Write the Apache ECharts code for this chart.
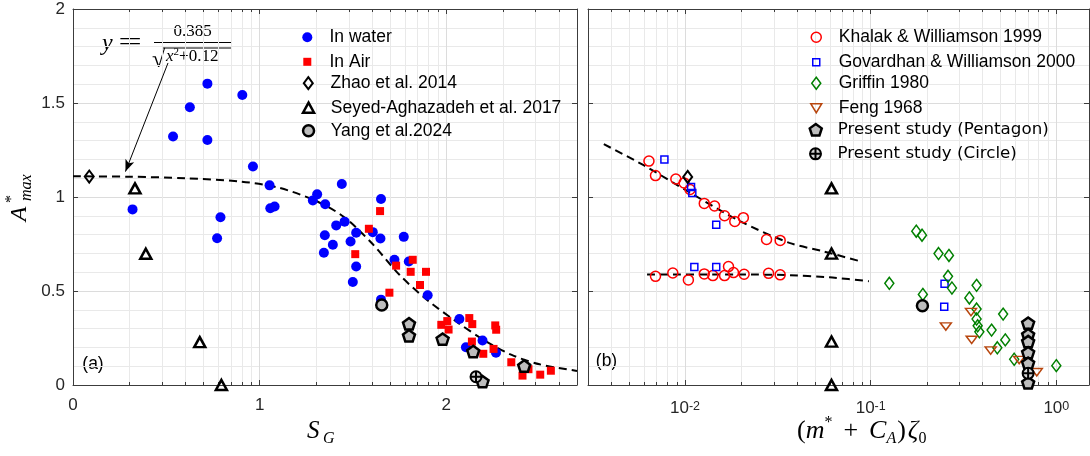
<!DOCTYPE html>
<html>
<head>
<meta charset="utf-8">
<script src="https://cdn.jsdelivr.net/npm/echarts@6.0.0/dist/echarts.min.js"></script>
<style>
  html, body { margin: 0; padding: 0; background: #fff; }
  #chart { width: 1090px; height: 456px; }
</style>
</head>
<body>
<div id="chart"></div>
<script>
// ---------- panel (a): A*max against S_G ----------
const inWater = [
  [0.319, 0.934], [0.536, 1.322], [0.626, 1.477], [0.72, 1.603], [0.72, 1.303],
  [0.772, 0.781], [0.79, 0.892], [0.907, 1.543], [0.964, 1.162], [1.053, 1.062],
  [1.057, 0.94], [1.08, 0.949], [1.285, 0.982], [1.308, 1.014], [1.351, 0.961],
  [1.44, 1.069], [1.41, 0.849], [1.455, 0.869], [1.349, 0.797], [1.392, 0.746],
  [1.344, 0.703], [1.487, 0.763], [1.517, 0.81], [1.606, 0.813], [1.65, 0.989],
  [1.647, 0.779], [1.517, 0.63], [1.499, 0.548], [1.772, 0.788], [1.722, 0.666],
  [1.799, 0.657], [1.65, 0.454], [1.9, 0.477], [2.07, 0.351], [2.105, 0.201],
  [2.194, 0.237], [2.266, 0.172]
];
const inAir = [
  [1.645, 0.925], [1.585, 0.831], [1.512, 0.696], [1.731, 0.635], [1.82, 0.666],
  [1.809, 0.602], [1.891, 0.602], [1.859, 0.532], [1.695, 0.491], [1.973, 0.32],
  [2.005, 0.34], [2.012, 0.295], [2.123, 0.356], [2.139, 0.324], [2.137, 0.231],
  [2.198, 0.166], [2.262, 0.317], [2.267, 0.294], [2.253, 0.192], [2.348, 0.121],
  [2.408, 0.05], [2.44, 0.084], [2.503, 0.055], [2.56, 0.076]
];
const zhaoA = [[0.087, 1.109]];
const seyedA = [[0.332, 1.046], [0.39, 0.698], [0.679, 0.228], [0.795, 0.0]];
const yangA = [[1.654, 0.425]];
const pentagonA = [[1.8, 0.326], [1.8, 0.262], [1.98, 0.244], [2.144, 0.178], [2.417, 0.101], [2.194, 0.018]];
const circleA = [[2.159, 0.044]];
const fitA = [
  [0, 1.11], [0.3, 1.108], [0.6, 1.1], [0.9, 1.082], [1.1, 1.05], [1.3, 0.98],
  [1.45, 0.895], [1.6, 0.755], [1.75, 0.585], [1.9, 0.45], [2.05, 0.34],
  [2.2, 0.24], [2.35, 0.16], [2.5, 0.11], [2.7, 0.075]
];

// ---------- panel (b): A*max against (m*+C_A)zeta0 ----------
const khalak = [
  [0.00639, 1.191], [0.00693, 1.114], [0.00892, 1.096], [0.00988, 1.075], [0.01064, 1.04],
  [0.01269, 0.966], [0.01442, 0.952], [0.01632, 0.9], [0.01853, 0.87], [0.02061, 0.89],
  [0.02748, 0.774], [0.03254, 0.769],
  [0.00693, 0.578], [0.00859, 0.596], [0.01042, 0.559], [0.01269, 0.591], [0.01412, 0.582],
  [0.01632, 0.582], [0.01714, 0.63], [0.01823, 0.598], [0.0208, 0.589], [0.02818, 0.594],
  [0.03254, 0.586]
];
const govardhan = [
  [0.00774, 1.2], [0.01077, 1.053], [0.01094, 1.021], [0.01472, 0.853],
  [0.01122, 0.628], [0.01472, 0.628], [0.25, 0.538], [0.249, 0.416]
];
const griffin = [
  [0.176, 0.818], [0.189, 0.797], [0.232, 0.699], [0.264, 0.689], [0.261, 0.578],
  [0.274, 0.516], [0.372, 0.53], [0.126, 0.541], [0.191, 0.482], [0.34, 0.463],
  [0.372, 0.404], [0.372, 0.351], [0.377, 0.315], [0.385, 0.283], [0.448, 0.292],
  [0.517, 0.377], [0.531, 0.24], [0.481, 0.198], [0.593, 0.137], [1.0, 0.103]
];
const feng = [[0.347, 0.388], [0.254, 0.311], [0.35, 0.24], [0.443, 0.183], [0.631, 0.133], [0.785, 0.068]];
const zhaoB = [[0.01033, 1.107]];
const seyedB = [[0.0615, 1.046], [0.0615, 0.699], [0.0615, 0.231], [0.0615, 0.0]];
const yangB = [[0.19, 0.422]];
const pentagonB = [[0.705, 0.329], [0.705, 0.267], [0.705, 0.231], [0.705, 0.172], [0.705, 0.116], [0.705, 0.012]];
const circleB = [[0.705, 0.062]];
const fitUpperB = [[0.00365, 1.281], [0.00598, 1.169], [0.01064, 1.023], [0.01972, 0.872], [0.03648, 0.756], [0.0551, 0.712], [0.0887, 0.657]];
const fitLowerB = [[0.00624, 0.588], [0.02, 0.588], [0.035, 0.585], [0.06, 0.573], [0.0978, 0.552]];

// axis ticks
const yTicks = { min: 0, max: 2, interval: 0.5 };
const xTicksA = { min: 0, max: 2.7, interval: 1 };
const xRangeB = { min: 0.003, max: 1.5 };

// ---------- styling ----------
const AXIS = '#3c3c3c';
const LABEL = '#262626';
const MAJOR = '#dcdcdc';
const MINOR = '#e9e9e9';
const GRAYFILL = '#bdbdbd';
const SANS = 'Liberation Sans';
const SERIF = 'Liberation Serif';

const PENTAGON = 'path://M0,-1L0.951,-0.309L0.588,0.809L-0.588,0.809L-0.951,-0.309Z';
const CROSSCIRCLE = 'path://M10,0A10,10 0 1 1 -10,0A10,10 0 1 1 10,0Z M-10,0L10,0 M0,-10L0,10';
const DOWNTRI = 'path://M-5.5,-4.5L5.5,-4.5L0,4.5Z';

// minor grid positions: MATLAB-style 2..9 subdivisions
const minorA = [];
for (let k = 0; k < 3; k++) for (let m = 2; m <= 9; m++) { const v = k + Math.log10(m); if (v < 2.69) minorA.push(v); }
const minorB = [];
for (let e = -3; e <= 0; e++) for (let m = 2; m <= 9; m++) { const v = m * Math.pow(10, e); if (v > 0.0031 && v < 1.5) minorB.push(v); }

function minorGrid(xi, yi, positions) {
  return {
    type: 'custom', xAxisIndex: xi, yAxisIndex: yi, silent: true, z: 1,
    data: positions.map(v => [v, 1]),
    renderItem(params, api) {
      const cs = params.coordSys;
      const px = Math.round(api.coord([api.value(0), 1])[0]) + 0.5;
      const y0 = cs.y, y1 = cs.y + cs.height;
      return { type: 'group', children: [
        { type: 'line', shape: { x1: px, y1: y0, x2: px, y2: y1 }, style: { stroke: MINOR, lineWidth: 1 } },
        { type: 'line', shape: { x1: px, y1: y1, x2: px, y2: y1 - 3 }, style: { stroke: AXIS, lineWidth: 1 } },
        { type: 'line', shape: { x1: px, y1: y0, x2: px, y2: y0 + 3 }, style: { stroke: AXIS, lineWidth: 1 } }
      ] };
    }
  };
}

// marker styles shared by both panels
const styles = {
  'In water': { symbol: 'circle', size: 10, item: { color: '#0000ff' } },
  'In Air': { symbol: 'rect', size: 8, item: { color: '#ff0000' } },
  'Zhao et al. 2014': { symbol: 'diamond', size: [9, 12], item: { color: 'rgba(0,0,0,0)', borderColor: '#000', borderWidth: 2 } },
  'Seyed-Aghazadeh et al. 2017': { symbol: 'triangle', size: [11, 10], item: { color: 'rgba(0,0,0,0)', borderColor: '#000', borderWidth: 2.5 } },
  'Yang et al.2024': { symbol: 'circle', size: 11, item: { color: GRAYFILL, borderColor: '#000', borderWidth: 2.5 } },
  'Khalak & Williamson 1999': { symbol: 'circle', size: 10, item: { color: 'rgba(0,0,0,0)', borderColor: '#ff0000', borderWidth: 1.5 } },
  'Govardhan & Williamson 2000': { symbol: 'rect', size: 7, item: { color: 'rgba(0,0,0,0)', borderColor: '#0000ff', borderWidth: 1.5 } },
  'Griffin 1980': { symbol: 'diamond', size: [9, 12], item: { color: 'rgba(0,0,0,0)', borderColor: '#008000', borderWidth: 1.5 } },
  'Feng 1968': { symbol: DOWNTRI, size: [11, 9], item: { color: 'rgba(0,0,0,0)', borderColor: '#b8460e', borderWidth: 1.5 } },
  'Present study (Pentagon)': { symbol: PENTAGON, size: 12, item: { color: GRAYFILL, borderColor: '#000', borderWidth: 2.5 } },
  'Present study (Circle)': { symbol: CROSSCIRCLE, size: 11, item: { color: '#d6d6d6', borderColor: '#000', borderWidth: 2 } }
};

function scatter(name, data, xi, yi) {
  const s = styles[name];
  return {
    type: 'scatter', name, data, xAxisIndex: xi, yAxisIndex: yi, z: 4,
    symbol: s.symbol, symbolSize: s.size, symbolKeepAspect: true,
    itemStyle: Object.assign({ opacity: 1 }, s.item), emphasis: { disabled: true }
  };
}

function fitLine(data, xi, yi, extra) {
  return Object.assign({
    type: 'line', data, xAxisIndex: xi, yAxisIndex: yi, symbol: 'none', smooth: 0.3, z: 3,
    silent: true, lineStyle: { color: '#000', width: 2, type: [8, 5] }
  }, extra || {});
}

// one legend component per row so each icon keeps its own size
function legendRow(name, iconCx, textLeft, cy, textStyle) {
  const s = styles[name];
  const w = Array.isArray(s.size) ? s.size[0] : s.size;
  const h = Array.isArray(s.size) ? s.size[1] : s.size;
  return {
    data: [{ name, icon: s.symbol, itemStyle: s.item }],
    left: iconCx - w / 2, top: cy - h / 2, itemWidth: w, itemHeight: h,
    padding: 0, itemGap: 0, orient: 'vertical', selectedMode: false,
    textStyle: Object.assign({
      fontFamily: SANS, fontSize: 17.5, color: '#000',
      padding: [0, 0, 0, textLeft - (iconCx + w / 2 + 5)]
    }, textStyle || {})
  };
}

const legendA = ['In water', 'In Air', 'Zhao et al. 2014', 'Seyed-Aghazadeh et al. 2017', 'Yang et al.2024'];
const legendB = ['Khalak & Williamson 1999', 'Govardhan & Williamson 2000', 'Griffin 1980', 'Feng 1968', 'Present study (Pentagon)', 'Present study (Circle)'];
const rowY = [33.3, 56.8, 80.2, 103.7, 127.2, 150.8];

function valueAxis(grid, pos, range, showLabel) {
  return Object.assign({
    gridIndex: grid, type: 'value', position: pos,
    axisLine: { show: true, onZero: false, lineStyle: { color: AXIS, width: 1 } },
    axisTick: { show: true, inside: true, length: 5, lineStyle: { color: AXIS } },
    axisLabel: { show: showLabel, fontFamily: SANS, fontSize: 17, color: LABEL, margin: 12, showMaxLabel: false },
    splitLine: { show: pos === 'bottom', lineStyle: { color: MAJOR, width: 1 } }
  }, range);
}
function logAxis(grid, pos, showLabel) {
  return Object.assign({
    gridIndex: grid, type: 'log', logBase: 10, position: pos,
    axisLine: { show: true, onZero: false, lineStyle: { color: AXIS, width: 1 } },
    axisTick: { show: true, inside: true, length: 5, lineStyle: { color: AXIS } },
    axisLabel: {
      show: showLabel, showMinLabel: false, showMaxLabel: false, margin: 15,
      formatter: v => '{b|10}{s|' + Math.round(Math.log10(v)) + '}',
      rich: {
        b: { fontFamily: SANS, fontSize: 17, color: LABEL, lineHeight: 17, verticalAlign: 'bottom' },
        s: { fontFamily: SANS, fontSize: 12.5, color: LABEL, lineHeight: 12, verticalAlign: 'top' }
      }
    },
    splitLine: { show: pos === 'bottom', lineStyle: { color: MAJOR, width: 1 } }
  }, xRangeB);
}
function yAxisFor(grid, pos, showLabel) {
  return Object.assign({
    gridIndex: grid, type: 'value', position: pos,
    axisLine: { show: true, onZero: false, lineStyle: { color: AXIS, width: 1 } },
    axisTick: { show: true, inside: true, length: 5, lineStyle: { color: AXIS } },
    axisLabel: { show: showLabel, fontFamily: SANS, fontSize: 17, color: LABEL, margin: 8, formatter: v => String(v) },
    splitLine: { show: pos === 'left', lineStyle: { color: MAJOR, width: 1 } },
    minorTick: { show: false, splitNumber: 5 },
    minorSplitLine: { show: pos === 'left', lineStyle: { color: MINOR, width: 1 } }
  }, yTicks);
}

const serifIt = { fontFamily: SERIF, fontStyle: 'italic', fill: '#000' };

const option = {
  animation: false,
  backgroundColor: '#fff',
  textStyle: { fontFamily: SANS },
  grid: [
    { left: 73, top: 9, width: 504, height: 376, outerBoundsMode: 'none' },
    { left: 588, top: 9, width: 501, height: 376, outerBoundsMode: 'none' }
  ],
  xAxis: [
    valueAxis(0, 'bottom', xTicksA, true),
    valueAxis(0, 'top', xTicksA, false),
    logAxis(1, 'bottom', true),
    logAxis(1, 'top', false)
  ],
  yAxis: [
    yAxisFor(0, 'left', true),
    yAxisFor(0, 'right', false),
    yAxisFor(1, 'left', false),
    yAxisFor(1, 'right', false)
  ],
  legend: [
    ...legendA.map((n, i) => legendRow(n, 307.3, 329.5, rowY[i])),
    ...legendB.map((n, i) => legendRow(n, i < 4 ? 815.5 : 814.5, i < 4 ? 838 : 836.5, rowY[i],
      i < 4 ? null : { fontFamily: 'DejaVu Sans', fontSize: 16.7 }))
  ],
  series: [
    minorGrid(0, 0, minorA),
    minorGrid(2, 2, minorB),
    fitLine(fitA, 0, 0, {
      markLine: {
        silent: true, symbol: ['none', 'arrow'], symbolSize: [7, 12], animation: false,
        label: { show: false }, lineStyle: { color: '#000', width: 1, type: 'solid' },
        data: [[{ coord: [0.509, 1.713] }, { coord: [0.281, 1.135] }]]
      }
    }),
    scatter('In water', inWater, 0, 0),
    scatter('In Air', inAir, 0, 0),
    scatter('Zhao et al. 2014', zhaoA, 0, 0),
    scatter('Seyed-Aghazadeh et al. 2017', seyedA, 0, 0),
    scatter('Yang et al.2024', yangA, 0, 0),
    scatter('Present study (Pentagon)', pentagonA, 0, 0),
    scatter('Present study (Circle)', circleA, 0, 0),
    fitLine(fitUpperB, 2, 2),
    fitLine(fitLowerB, 2, 2, { smooth: 0.2 }),
    scatter('Khalak & Williamson 1999', khalak, 2, 2),
    scatter('Govardhan & Williamson 2000', govardhan, 2, 2),
    scatter('Griffin 1980', griffin, 2, 2),
    scatter('Feng 1968', feng, 2, 2),
    scatter('Zhao et al. 2014', zhaoB, 2, 2),
    scatter('Seyed-Aghazadeh et al. 2017', seyedB, 2, 2),
    scatter('Yang et al.2024', yangB, 2, 2),
    scatter('Present study (Pentagon)', pentagonB, 2, 2),
    scatter('Present study (Circle)', circleB, 2, 2)
  ],
  graphic: [
    // panel tags
    { type: 'text', x: 93, y: 364, style: { text: '(a)', fontFamily: SANS, fontSize: 17.5, fill: '#000', align: 'center', verticalAlign: 'middle' } },
    { type: 'text', x: 606.5, y: 361, style: { text: '(b)', fontFamily: SANS, fontSize: 17.5, fill: '#000', align: 'center', verticalAlign: 'middle' } },
    // y-axis title A*_max
    { type: 'group', x: 20, y: 197, rotation: Math.PI / 2, children: [
      { type: 'text', x: -17, y: 0, style: Object.assign({ text: 'A', fontSize: 24, align: 'center', verticalAlign: 'middle' }, serifIt) },
      { type: 'text', x: -6, y: -8, style: { text: '*', fontFamily: SERIF, fontSize: 16, fill: '#000', align: 'left', verticalAlign: 'middle' } },
      { type: 'text', x: -4, y: 7, style: Object.assign({ text: 'max', fontSize: 16, align: 'left', verticalAlign: 'middle' }, serifIt) }
    ] },
    // x-axis title S_G
    { type: 'text', x: 307, y: 431, style: Object.assign({ text: 'S', fontSize: 25, align: 'left', verticalAlign: 'middle' }, serifIt) },
    { type: 'text', x: 323, y: 439, style: Object.assign({ text: 'G', fontSize: 16, align: 'left', verticalAlign: 'middle' }, serifIt) },
    // x-axis title (m* + C_A) zeta_0
    { type: 'text', x: 797, y: 431, style: {
      text: '{u|(}{i|m}{p|*}{o|+}{i|C}{d|A}{u|)}{z|ζ}{e|0}',
      align: 'left', verticalAlign: 'middle',
      rich: {
        u: { fontFamily: SERIF, fontSize: 26, fill: '#000', lineHeight: 32, verticalAlign: 'middle' },
        o: { fontFamily: SERIF, fontSize: 26, fill: '#000', lineHeight: 32, verticalAlign: 'middle', padding: [0, 11, 0, 11] },
        i: { fontFamily: SERIF, fontStyle: 'italic', fontSize: 26, fill: '#000', lineHeight: 32, verticalAlign: 'middle' },
        z: { fontFamily: SERIF, fontStyle: 'italic', fontSize: 26, fill: '#000', lineHeight: 32, verticalAlign: 'middle', padding: [0, 0, 0, 2] },
        p: { fontFamily: SERIF, fontSize: 16, fill: '#000', verticalAlign: 'top' },
        d: { fontFamily: SERIF, fontStyle: 'italic', fontSize: 16, fill: '#000', verticalAlign: 'bottom', padding: [0, 1, 0, 0] },
        e: { fontFamily: SERIF, fontSize: 16, fill: '#000', verticalAlign: 'bottom' }
      }
    } },
    // fitted-curve equation
    { type: 'text', x: 102, y: 44, style: Object.assign({ text: 'y', fontSize: 24, align: 'left', verticalAlign: 'middle' }, serifIt) },
    { type: 'text', x: 130, y: 43, scaleX: 1.75, style: { text: '=', fontFamily: SERIF, fontSize: 24, fill: '#000', align: 'center', verticalAlign: 'middle' } },
    { type: 'text', x: 192.5, y: 32, style: { text: '0.385', fontFamily: SERIF, fontSize: 17, fill: '#000', align: 'center', verticalAlign: 'middle' } },
    { type: 'line', shape: { x1: 154, y1: 42.5, x2: 232, y2: 42.5 }, style: { stroke: '#000', lineWidth: 1 } },
    { type: 'text', x: 152, y: 60.5, style: { text: '√', fontFamily: SERIF, fontSize: 24, fill: '#000', align: 'left', verticalAlign: 'middle' } },
    { type: 'line', shape: { x1: 163, y1: 48, x2: 232, y2: 48 }, style: { stroke: '#000', lineWidth: 1 } },
    { type: 'text', x: 166, y: 57, style: {
      text: '{i|x}{s|2}{u|+0.12}', align: 'left', verticalAlign: 'middle',
      rich: {
        i: { fontFamily: SERIF, fontStyle: 'italic', fontSize: 17, fill: '#000', lineHeight: 20, verticalAlign: 'middle' },
        s: { fontFamily: SERIF, fontSize: 11, fill: '#000', verticalAlign: 'top' },
        u: { fontFamily: SERIF, fontSize: 17, fill: '#000', lineHeight: 20, verticalAlign: 'middle' }
      }
    } }
  ]
};

const chart = echarts.init(document.getElementById('chart'), null, { renderer: 'canvas' });
chart.setOption(option);
</script>
</body>
</html>
